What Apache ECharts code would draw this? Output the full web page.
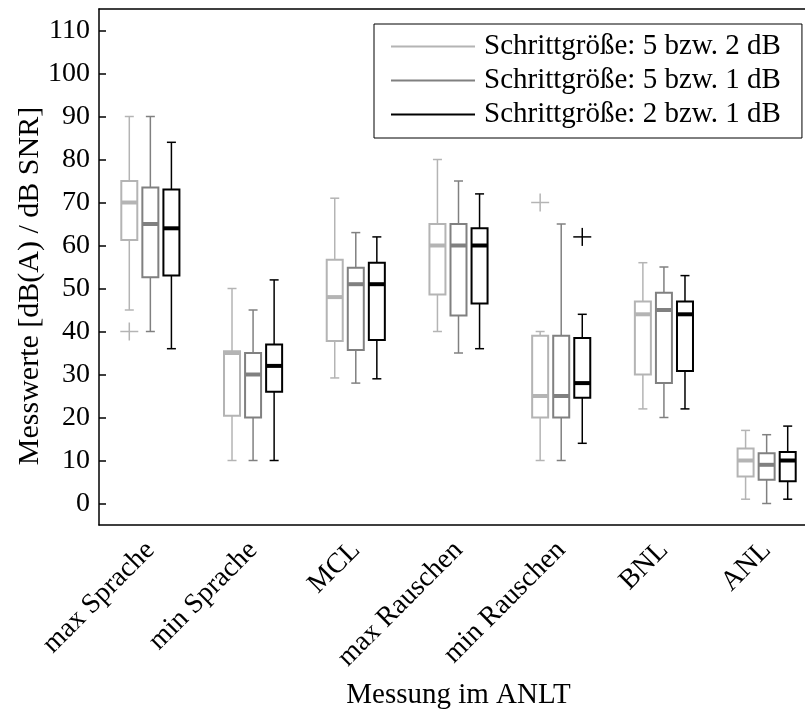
<!DOCTYPE html>
<html><head><meta charset="utf-8">
<script src="https://cdn.jsdelivr.net/npm/echarts@6/dist/echarts.min.js"></script>
<style>html,body{margin:0;padding:0;background:#fff}#c{width:805px;height:724px}</style>
</head><body><div id="c"></div>
<script>
const categories = ['max Sprache', 'min Sprache', 'MCL', 'max Rauschen', 'min Rauschen', 'BNL', 'ANL'];
const seriesNames = ['Schrittgröße: 5 bzw. 2 dB', 'Schrittgröße: 5 bzw. 1 dB', 'Schrittgröße: 2 bzw. 1 dB'];
// each box: [min, Q1, median, Q3, max]
const boxes52 = [[45, 61.3, 70, 75, 90], [10, 20.4, 35, 35.4, 50], [29.2, 37.8, 48, 56.7, 71], [40, 48.6, 60, 65, 80], [10, 20, 25, 39, 40], [22, 30, 44, 47, 56], [1, 6.3, 10, 12.8, 17]];
const boxes51 = [[40, 52.6, 65, 73.5, 90], [10, 20, 30, 35, 45], [28, 35.7, 51, 54.8, 63], [35, 43.7, 60, 65, 75], [10, 20, 25, 39, 65], [20, 28, 45, 49, 55], [0, 5.5, 9, 11.7, 16]];
const boxes21 = [[36, 53, 64, 73, 84], [10, 26, 32, 37, 52], [29, 38, 51, 56, 62], [36, 46.5, 60, 64, 72], [14, 24.6, 28, 38.5, 44], [22, 30.8, 44, 47, 53], [1, 5.2, 10, 12, 18]];
// outliers: [category index, value]
const outliers52 = [[0, 40], [4, 70]];
const outliers51 = [];
const outliers21 = [[4, 62]];
const yTicks = [0, 10, 20, 30, 40, 50, 60, 70, 80, 90, 100, 110];

const colors = ['#b4b4b4', '#808080', '#000000'];
const FONT = 'Liberation Serif';
const allBoxes = [boxes52, boxes51, boxes21];
const allOutliers = [outliers52, outliers51, outliers21];

function boxRender(k, color) {
  return function (params, api) {
    const c = api.value(0);
    const band = api.size([1, 0])[0];
    const off = (k - 1) * band * 0.205;
    const pMin = api.coord([c, api.value(1)]);
    const pQ1 = api.coord([c, api.value(2)]);
    const pMed = api.coord([c, api.value(3)]);
    const pQ3 = api.coord([c, api.value(4)]);
    const pMax = api.coord([c, api.value(5)]);
    const x = pMin[0] + off;
    const hb = 8, hc = 4.5;
    const line = (x1, y1, x2, y2, w) => ({ type: 'line', shape: { x1, y1, x2, y2 }, style: { stroke: color, lineWidth: w } });
    return {
      type: 'group', children: [
        line(x, pMax[1], x, pQ3[1], 1.5),
        line(x, pQ1[1], x, pMin[1], 1.5),
        line(x - hc, pMax[1], x + hc, pMax[1], 1.5),
        line(x - hc, pMin[1], x + hc, pMin[1], 1.5),
        { type: 'rect', shape: { x: x - hb, y: pQ3[1], width: 2 * hb, height: pQ1[1] - pQ3[1] }, style: { fill: '#fff', stroke: color, lineWidth: 2 } },
        line(x - hb, pMed[1], x + hb, pMed[1], 4)
      ]
    };
  };
}
function outlierRender(k, color) {
  return function (params, api) {
    const c = api.value(0);
    const band = api.size([1, 0])[0];
    const off = (k - 1) * band * 0.205;
    const p = api.coord([c, api.value(1)]);
    const x = p[0] + off, y = p[1], h = 9;
    return {
      type: 'group', children: [
        { type: 'line', shape: { x1: x - h, y1: y, x2: x + h, y2: y }, style: { stroke: color, lineWidth: 1.5 } },
        { type: 'line', shape: { x1: x, y1: y - h, x2: x, y2: y + h }, style: { stroke: color, lineWidth: 1.5 } }
      ]
    };
  };
}

const series = [];
seriesNames.forEach((name, k) => {
  series.push({
    name, type: 'custom', xAxisIndex: 0, yAxisIndex: 0,
    renderItem: boxRender(k, colors[k]),
    encode: { x: 0, y: [1, 2, 3, 4, 5] },
    itemStyle: { color: colors[k] },
    data: allBoxes[k].map((b, i) => [i].concat(b)),
    z: 3
  });
  series.push({
    name, type: 'custom', xAxisIndex: 0, yAxisIndex: 0,
    renderItem: outlierRender(k, colors[k]),
    encode: { x: 0, y: 1 },
    itemStyle: { color: colors[k] },
    data: allOutliers[k],
    z: 3
  });
});

const chart = echarts.init(document.getElementById('c'), null, { renderer: 'canvas' });
chart.setOption({
  animation: false,
  backgroundColor: '#fff',
  grid: { left: 99, top: 9, width: 719, height: 516, outerBoundsMode: 'none' },
  legend: {
    orient: 'vertical', left: 374, top: 24, padding: [8, 21, 9, 17], itemGap: 5,
    itemWidth: 84, itemHeight: 2, borderColor: '#000', borderWidth: 1, backgroundColor: '#fff',
    selectedMode: false,
    textStyle: { fontFamily: FONT, fontSize: 29, color: '#000', padding: [0, 0, 0, 4] },
    data: seriesNames.map((n, i) => ({ name: n, icon: 'rect', itemStyle: { color: colors[i], borderWidth: 0 } }))
  },
  xAxis: [{
    type: 'category', data: categories, position: 'bottom',
    axisLine: { onZero: false, lineStyle: { color: '#000', width: 1.5 } },
    axisTick: { inside: true, alignWithLabel: true, length: 7, lineStyle: { color: '#000', width: 1.5 } },
    axisLabel: { rotate: 45, fontFamily: FONT, fontSize: 28, color: '#000', margin: 21, interval: 0 },
    name: 'Messung im ANLT', nameLocation: 'middle', nameGap: 156, nameMoveOverlap: false,
    nameTextStyle: { fontFamily: FONT, fontSize: 29, color: '#000' },
    splitLine: { show: false }
  }, {
    type: 'category', data: categories, position: 'top',
    axisLine: { onZero: false, lineStyle: { color: '#000', width: 1.5 } },
    axisTick: { inside: true, alignWithLabel: true, length: 7, lineStyle: { color: '#000', width: 1.5 } },
    axisLabel: { show: false }, splitLine: { show: false }
  }],
  yAxis: [{
    type: 'value', min: -5, max: 115,
    axisLine: { show: true, onZero: false, lineStyle: { color: '#000', width: 1.5 } },
    axisTick: { show: true, inside: true, length: 7, customValues: yTicks, lineStyle: { color: '#000', width: 1.5 } },
    axisLabel: { customValues: yTicks, fontFamily: FONT, fontSize: 28, color: '#000', margin: 9 },
    splitLine: { show: false },
    name: 'Messwerte [dB(A) / dB SNR]', nameLocation: 'middle', nameGap: 54, nameMoveOverlap: false,
    nameTextStyle: { fontFamily: FONT, fontSize: 30, color: '#000', padding: [0, 38, 0, 0] }
  }],
  series
});
</script></body></html>
